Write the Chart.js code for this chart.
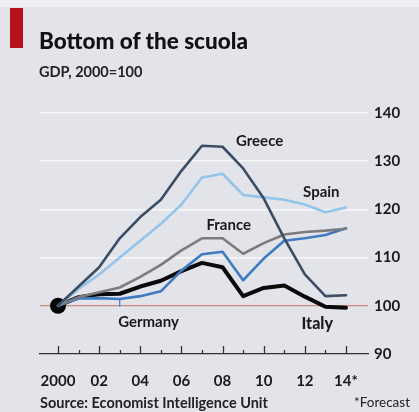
<!DOCTYPE html>
<html>
<head>
<meta charset="utf-8">
<script src="https://cdn.jsdelivr.net/npm/chart.js@4"></script>
<style>
  html, body { margin: 0; padding: 0; }
  body { width: 419px; height: 412px; background: #e3e4ea; position: relative; overflow: hidden; font-family: "Lato", "Noto Sans", sans-serif; }
  #topstrip { position: absolute; left: 0; top: 0; width: 419px; height: 7px; background: #eeeff2; }
  #bar { position: absolute; left: 10px; top: 8px; width: 13px; height: 40px; background: #b8121b; }
  #title { position: absolute; left: 39px; top: 27px; font-size: 22.5px; font-weight: 900; color: #111; white-space: nowrap; }
  #subtitle { position: absolute; left: 39px; top: 63px; font-size: 14.5px; font-weight: 700; color: #222; white-space: nowrap; }
  #source { position: absolute; left: 40px; top: 394px; font-size: 14.5px; font-weight: 700; color: #222; white-space: nowrap; }
  #note { position: absolute; right: 9px; top: 394px; font-size: 13.5px; font-weight: 400; color: #222; white-space: nowrap; }
  #wrap { position: absolute; left: 0; top: 0; width: 419px; height: 412px; }
</style>
</head>
<body>
<div id="topstrip"></div>
<div id="bar"></div>
<div id="wrap"><canvas id="c" width="419" height="412"></canvas></div>
<div id="title">Bottom of the scuola</div>
<div id="subtitle">GDP, 2000=100</div>
<div id="source">Source: Economist Intelligence Unit</div>
<div id="note">*Forecast</div>
<script>
// ---- data ----
const years   = [2000, 2001, 2002, 2003, 2004, 2005, 2006, 2007, 2008, 2009, 2010, 2011, 2012, 2013, 2014];
const greece  = [100, 104, 108, 114, 118.4, 122, 128, 133.2, 133, 128.5, 122.3, 114, 106.5, 102, 102.2];
const spain   = [100, 103.5, 106.5, 110, 113.5, 117, 121, 126.6, 127.4, 123, 122.5, 122, 121, 119.4, 120.4];
const france  = [100, 101.8, 102.8, 103.8, 106, 108.5, 111.5, 114, 114, 110.8, 113, 114.8, 115.3, 115.6, 116];
const germany = [100, 101.5, 101.6, 101.4, 102, 103, 107.3, 110.7, 111.2, 105.3, 109.8, 113.5, 114, 114.7, 116.1];
const italy   = [100, 101.8, 102.4, 102.5, 104, 105.2, 107.2, 108.9, 108, 102, 103.7, 104.2, 101.9, 99.8, 99.6];
const xTickLabels = {2000: "2000", 2002: "02", 2004: "04", 2006: "06", 2008: "08", 2010: "10", 2012: "12", 2014: "14*"};
const yTicks = [90, 100, 110, 120, 130, 140];

const pts = arr => arr.map((v, i) => ({x: years[i], y: v}));

const labelItems = [
  {text: "Greece",  x: 2009.8, y: 134.2, bold: false},
  {text: "Spain",   x: 2012.8, y: 123.6, bold: false},
  {text: "France",  x: 2008.3, y: 116.8, bold: false},
  {text: "Germany", x: 2004.4, y: 96.6,  bold: false},
  {text: "Italy",   x: 2012.6, y: 96.2,  bold: true}
];

const FONT = '"Lato", "Noto Sans", sans-serif';

const decor = {
  id: 'decor',
  afterDatasetsDraw(chart) {
    const ctx = chart.ctx, xs = chart.scales.x, ys = chart.scales.y;
    const base = ys.getPixelForValue(90);
    ctx.save();
    ctx.strokeStyle = '#333';
    ctx.lineWidth = 1.3;
    years.forEach(yr => {
      const px = Math.round(xs.getPixelForValue(yr)) + 0.5;
      const len = (yr % 2 === 0) ? 8 : 4;
      ctx.beginPath(); ctx.moveTo(px, base); ctx.lineTo(px, base - len); ctx.stroke();
    });
    const gx = xs.getPixelForValue(2003);
    ctx.strokeStyle = '#3f7bc0';
    ctx.lineWidth = 1.2;
    ctx.beginPath(); ctx.moveTo(gx, ys.getPixelForValue(germany[3])); ctx.lineTo(gx, ys.getPixelForValue(99.8)); ctx.stroke();
    ctx.fillStyle = '#1a1a1a';
    ctx.textAlign = 'center';
    ctx.textBaseline = 'middle';
    labelItems.forEach(l => {
      ctx.font = (l.bold ? '900 16px ' : '700 15px ') + FONT;
      ctx.fillText(l.text, xs.getPixelForValue(l.x), ys.getPixelForValue(l.y));
    });
    ctx.restore();
  }
};

new Chart(document.getElementById('c'), {
  type: 'line',
  data: {
    datasets: [
      {label: 'Greece',  data: pts(greece),  borderColor: '#3a4d64', borderWidth: 2.6},
      {label: 'Spain',   data: pts(spain),   borderColor: '#93c4ea', borderWidth: 2.6},
      {label: 'France',  data: pts(france),  borderColor: '#7c7b7e', borderWidth: 2.6},
      {label: 'Germany', data: pts(germany), borderColor: '#3f7bc0', borderWidth: 2.6},
      {label: 'Italy',   data: pts(italy),   borderColor: '#0a0a0a', borderWidth: 4},
      {label: 'start', data: [{x: years[0], y: italy[0]}], showLine: false, pointRadius: 8, pointBackgroundColor: '#050505', pointBorderWidth: 0}
    ]
  },
  options: {
    responsive: false,
    animation: false,
    events: [],
    elements: { point: { radius: 0 }, line: { tension: 0, borderJoinStyle: 'round', borderCapStyle: 'round' } },
    layout: { padding: { left: 40, top: 113, right: 0, bottom: 0 } },
    plugins: { legend: { display: false }, tooltip: { enabled: false } },
    scales: {
      x: {
        type: 'linear',
        min: 1999.125, max: 2015.07,
        afterBuildTicks: s => { s.ticks = years.map(v => ({value: v})); },
        afterFit: s => { s.height = 58; },
        grid: { display: false, drawTicks: false },
        border: { display: true, color: '#333', width: 1.3 },
        ticks: {
          autoSkip: false, maxRotation: 0, padding: 18,
          color: '#1a1a1a', font: { size: 15, weight: '700', family: FONT },
          callback: v => xTickLabels[v] || ''
        }
      },
      y: {
        position: 'right',
        min: 90, max: 140,
        afterBuildTicks: s => { s.ticks = yTicks.map(v => ({value: v})); },
        afterFit: s => { s.width = 51; },
        grid: {
          drawTicks: false,
          lineWidth: ctx => ctx.tick && ctx.tick.value === 100 ? 1.3 : 1.6,
          color: ctx => {
            const v = ctx.tick && ctx.tick.value;
            if (v === 100) return '#c98a80';
            if (v === 90) return 'rgba(0,0,0,0)';
            return '#f7f7f9';
          }
        },
        border: { display: false },
        ticks: { padding: 6, color: '#1a1a1a', font: { size: 15, weight: '700', family: FONT } }
      }
    }
  },
  plugins: [decor]
});
</script>
</body>
</html>
